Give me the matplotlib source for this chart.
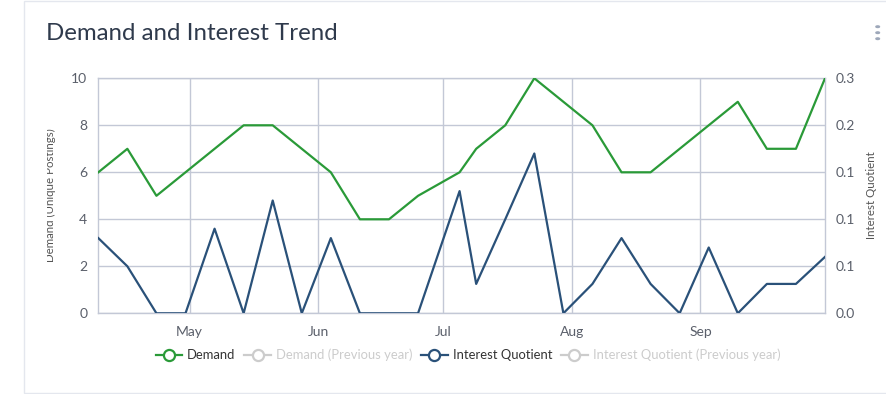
import matplotlib
matplotlib.use("Agg")
import matplotlib.pyplot as plt
import matplotlib.dates as mdates
from matplotlib.lines import Line2D
from matplotlib.patches import Rectangle, Circle
from matplotlib.transforms import Bbox, TransformedBbox
import numpy as np

# ---------------- data ----------------
dates = ["2018-04-09", "2018-04-16", "2018-04-23", "2018-04-30", "2018-05-07",
         "2018-05-14", "2018-05-21", "2018-05-28", "2018-06-04", "2018-06-11",
         "2018-06-18", "2018-06-25", "2018-07-05", "2018-07-09", "2018-07-16",
         "2018-07-23", "2018-07-30", "2018-08-06", "2018-08-13", "2018-08-20",
         "2018-08-27", "2018-09-03", "2018-09-10", "2018-09-17", "2018-09-24",
         "2018-10-01"]
demand = [6, 7, 5, 6, 7, 8, 8, 7, 6, 4, 4, 5, 6, 7, 8, 10, 9, 8, 6, 6, 7, 8, 9, 7, 7, 10]
interest = [0.096, 0.060, 0.0, 0.0, 0.108, 0.0, 0.144, 0.0, 0.096, 0.0, 0.0, 0.0,
            0.156, 0.0375, 0.120, 0.204, 0.0, 0.0375, 0.096, 0.0375, 0.0, 0.084,
            0.0, 0.0375, 0.0375, 0.072]
month_ticks = ["2018-05-01", "2018-06-01", "2018-07-01", "2018-08-01", "2018-09-01"]
month_labels = ["May", "Jun", "Jul", "Aug", "Sep"]
left_ticks = [0, 2, 4, 6, 8, 10]
right_ticks = [0.0, 0.06, 0.12, 0.18, 0.24, 0.30]
right_labels = ["0.0", "0.1", "0.1", "0.1", "0.2", "0.3"]
legend_labels = ["Demand", "Demand (Previous year)", "Interest Quotient",
                 "Interest Quotient (Previous year)"]

# ---------------- style ----------------
FONT = "Lato"
plt.rcParams["font.family"] = [FONT, "DejaVu Sans"]
W, H = 887, 394
GREEN = "#2a9a38"
BLUE = "#2a5179"
GREY_LEG = "#cccccc"
GRID = "#c3c8d6"
TICK = "#5a5f6a"

x = mdates.date2num(np.array(dates, dtype="datetime64[D]"))
mt = mdates.date2num(np.array(month_ticks, dtype="datetime64[D]"))

fig = plt.figure(figsize=(W / 100, H / 100), dpi=100)
fig.patch.set_facecolor("white")

# card
card = Rectangle((24.5 / W, 1.3 / H), (W + 10 - 24.5) / W, (392.7 - 1.0) / H,
                 transform=fig.transFigure, facecolor="white",
                 edgecolor="#e4e7ee", lw=1.0, zorder=0)
fig.patches.append(card)

# menu dots
for yy in (26.7, 32.7, 38.7):
    fig.patches.append(Circle((877.7 / W, 1 - yy / H), 1.8 / W,
                              transform=fig.transFigure, color="#9ea8ba"))

fig.text(46 / W, 1 - 33 / H, "Demand and Interest Trend", fontsize=17.3,
         color="#2f3a4c", va="center", ha="left")

ax = fig.add_axes([98.3 / W, (H - 313.3) / H, (825 - 98.3) / W, 235 / H])
ax.set_zorder(1)
ax.patch.set_alpha(0)
ax.plot(x, demand, color=GREEN, lw=1.6, zorder=3)
ax.set_xlim(x[0], x[-1])
ax.set_ylim(0, 10)
ax.set_yticks(left_ticks)
ax.set_xticks(mt)
ax.set_xticklabels(month_labels)
ax.grid(True, color=GRID, lw=1.0)
ax.tick_params(length=0, colors=TICK, labelsize=10)
ax.tick_params(axis="x", pad=9)
ax.tick_params(axis="y", pad=8)
for s in ax.spines.values():
    s.set_color(GRID)
    s.set_linewidth(1.0)
ax.set_axisbelow(True)

ax2 = ax.twinx()
ax2.plot(x, interest, color=BLUE, lw=1.6, zorder=3)
ax2.set_ylim(0, 0.3)
ax2.set_yticks(right_ticks)
ax2.set_yticklabels(right_labels)
ax2.tick_params(length=0, colors=TICK, labelsize=10, pad=8)
for s in ax2.spines.values():
    s.set_visible(False)

# axis titles
ylab = fig.text(50.5 / W, 1 - 195 / H, "Demand (Unique Postings)", rotation=90,
                fontsize=8.3, color="#555555", ha="center", va="center")
clip = TransformedBbox(Bbox([[47.5 / W, 0], [1, 1]]), fig.transFigure)
ylab.set_clip_box(clip)
ylab.set_clip_on(True)
fig.text(871.7 / W, 1 - 195 / H, "Interest Quotient", rotation=90,
         fontsize=8.3, color="#555555", ha="center", va="center")

# legend
cols = [GREEN, GREY_LEG, BLUE, GREY_LEG]
handles = [Line2D([], [], color=c, lw=1.6, marker="o", markersize=8,
                  markerfacecolor="white", markeredgecolor=c, markeredgewidth=1.6)
           for c in cols]
leg = fig.legend(handles, legend_labels, loc="center",
                 bbox_to_anchor=(468 / W, 1 - 355 / H), ncol=4, frameon=False,
                 fontsize=9.4, handlelength=2.0, handletextpad=0.4,
                 columnspacing=0.7, borderpad=0)
for t, c in zip(leg.get_texts(), ["#333333", GREY_LEG, "#333333", GREY_LEG]):
    t.set_color(c)

fig.savefig("out.png", dpi=100)
